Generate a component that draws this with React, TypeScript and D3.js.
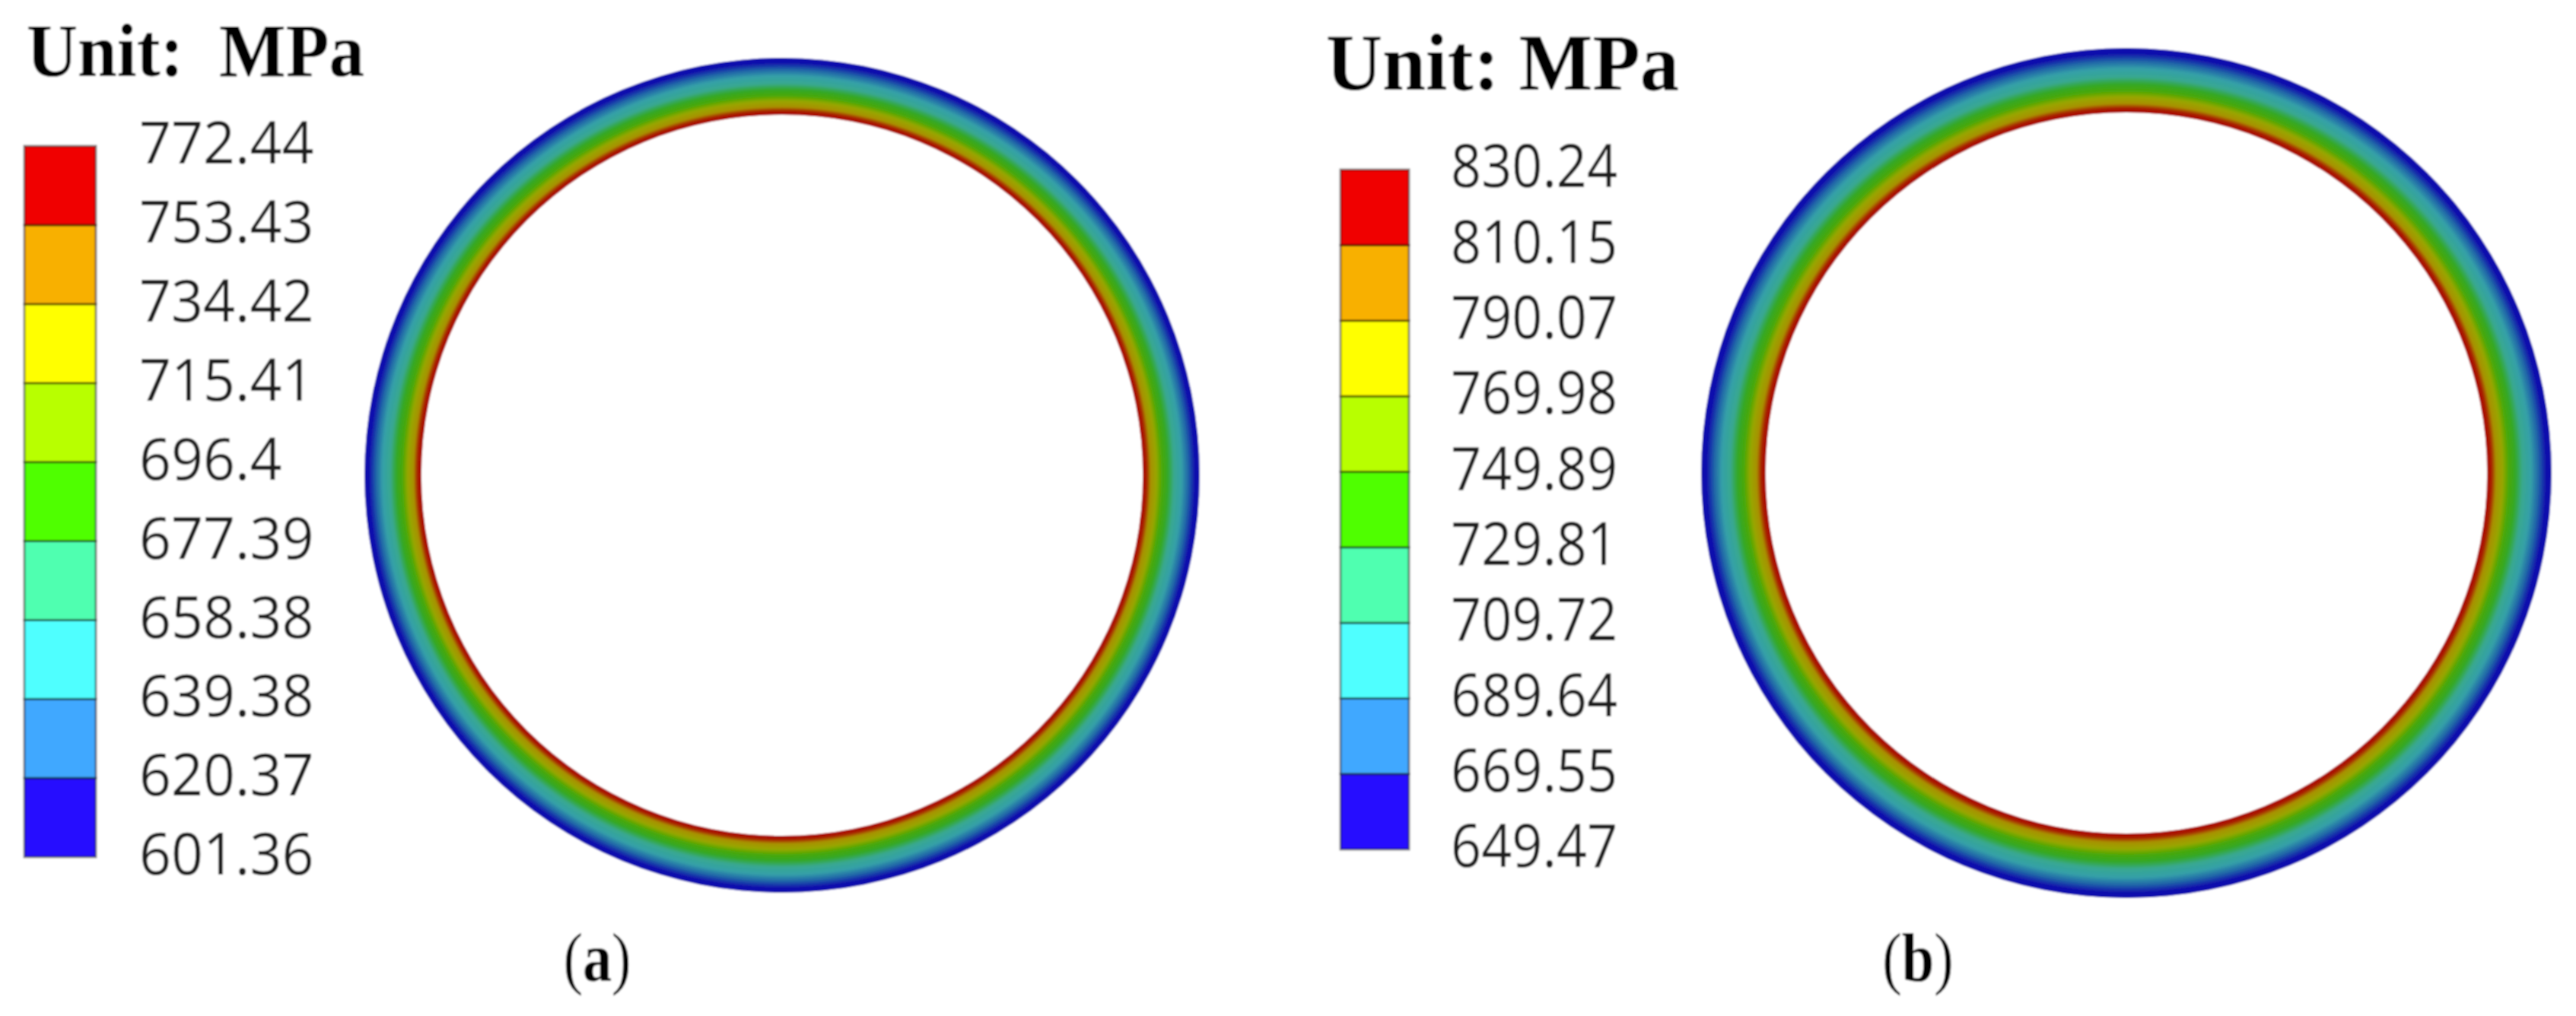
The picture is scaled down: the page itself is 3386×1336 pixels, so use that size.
import * as React from 'react';
import * as d3 from 'd3';

const WIDTH = 3386;
const HEIGHT = 1336;

// legend levels, bottom to top
const levelsA = [601.36, 620.37, 639.38, 658.38, 677.39, 696.4, 715.41, 734.42, 753.43, 772.44];
const levelsB = [649.47, 669.55, 689.64, 709.72, 729.81, 749.89, 769.98, 790.07, 810.15, 830.24];

// one colour per legend cell, bottom to top
const cellColors = ['#2810ff', '#40a8ff', '#50ffff', '#50ffb0', '#50ff00', '#b8ff00', '#ffff00', '#f8b000', '#f00000'];

// muted contour colours read across the ring, outer edge to inner edge
const ringColors = ['#0a0aae', '#1010ac', '#2064a8', '#34a0a8', '#38a890', '#34a828', '#48a808', '#98a600', '#a89000', '#a82000', '#aa0000'];
const ringPositions = [0, 0.08, 0.2, 0.32, 0.45, 0.56, 0.66, 0.76, 0.86, 0.93, 1];

const panels = [
  {
    id: 'a',
    levels: levelsA,
    labels: ['601.36', '620.37', '639.38', '658.38', '677.39', '696.4', '715.41', '734.42', '753.43', '772.44'],
    unit: 'Unit:  MPa',
    unitX: 35,
    unitY: 100,
    unitSize: 100,
    unitLength: 444,
    legendX: 32,
    legendW: 94,
    legendTop: 192,
    legendBottom: 1127,
    labelX: 183,
    labelSize: 77,
    labelSqueeze: 0.955,
    cx: 1028,
    cy: 625,
    outer: 549,
    inner: 474,
    captionX: 785,
  },
  {
    id: 'b',
    levels: levelsB,
    labels: ['649.47', '669.55', '689.64', '709.72', '729.81', '749.89', '769.98', '790.07', '810.15', '830.24'],
    unit: 'Unit: MPa',
    unitX: 1743,
    unitY: 118,
    unitSize: 105,
    unitLength: 464,
    legendX: 1762,
    legendW: 90,
    legendTop: 223,
    legendBottom: 1117,
    labelX: 1907,
    labelSize: 78,
    labelSqueeze: 0.9,
    cx: 2795,
    cy: 622,
    outer: 559,
    inner: 474,
    captionX: 2521,
  },
];

function Panel({ panel }) {
  const axisRef = React.useRef(null);
  const { levels, labels } = panel;
  const lo = levels[0];
  const hi = levels[levels.length - 1];

  const y = d3.scaleLinear().domain([lo, hi]).range([panel.legendBottom, panel.legendTop]);
  const radius = d3.scaleLinear().domain([0, 1]).range([panel.outer, panel.inner]);

  const ring = d3.arc()({
    innerRadius: panel.inner,
    outerRadius: panel.outer,
    startAngle: 0,
    endAngle: Math.PI * 2,
  });

  React.useEffect(() => {
    const axis = d3
      .axisRight(y)
      .tickValues(levels)
      .tickSize(0)
      .tickPadding(0)
      .tickFormat((d, i) => labels[i]);
    const g = d3.select(axisRef.current).call(axis);
    g.select('.domain').remove();
    g.selectAll('text')
      .attr('x', 0)
      .attr('dy', '0.32em')
      .attr('fill', '#1a1a1a')
      .attr('font-family', '"Open Sans", sans-serif')
      .attr('font-size', panel.labelSize);
  }, []);

  return (
    <g>
      <text
        x={panel.unitX}
        y={panel.unitY}
        fontFamily='"Liberation Serif", serif'
        fontWeight="bold"
        fontSize={panel.unitSize}
        textLength={panel.unitLength}
        lengthAdjust="spacingAndGlyphs"
        style={{ whiteSpace: 'pre' }}
      >
        {panel.unit}
      </text>

      {cellColors.map((c, i) => (
        <rect
          key={c}
          x={panel.legendX}
          y={y(levels[i + 1])}
          width={panel.legendW}
          height={y(levels[i]) - y(levels[i + 1])}
          fill={c}
          stroke="#000"
          strokeOpacity={0.45}
          strokeWidth={3}
        />
      ))}
      <g ref={axisRef} transform={`translate(${panel.labelX},-2) scale(${panel.labelSqueeze},1)`} />

      <radialGradient
        id={`ring-${panel.id}`}
        gradientUnits="userSpaceOnUse"
        cx={0}
        cy={0}
        r={panel.outer}
      >
        {ringPositions
          .map((t, i) => ({ t, color: ringColors[i] }))
          .reverse()
          .map(d => (
            <stop key={d.t} offset={radius(d.t) / panel.outer} stopColor={d.color} />
          ))}
      </radialGradient>
      <path transform={`translate(${panel.cx},${panel.cy})`} d={ring} fill={`url(#ring-${panel.id})`} />

      <text
        transform={`translate(${panel.captionX},1290) scale(0.85,1)`}
        textAnchor="middle"
        fontFamily='"Liberation Serif", serif'
        fontSize={90}
      >
        (<tspan fontWeight="bold">{panel.id}</tspan>)
      </text>
    </g>
  );
}

export default function App() {
  return (
    <svg
      width={WIDTH}
      height={HEIGHT}
      viewBox={`0 0 ${WIDTH} ${HEIGHT}`}
      style={{ position: 'absolute', left: 0, top: 0, background: '#fff' }}
    >
      <defs>
        {/* the source is an upscaled raster, everything is a little soft */}
        <filter id="soft" x="0" y="0" width="100%" height="100%">
          <feGaussianBlur stdDeviation={1.1} />
        </filter>
      </defs>
      <g filter="url(#soft)">
        <rect width={WIDTH} height={HEIGHT} fill="#fff" />
        {panels.map(p => (
          <Panel key={p.id} panel={p} />
        ))}
      </g>
    </svg>
  );
}
